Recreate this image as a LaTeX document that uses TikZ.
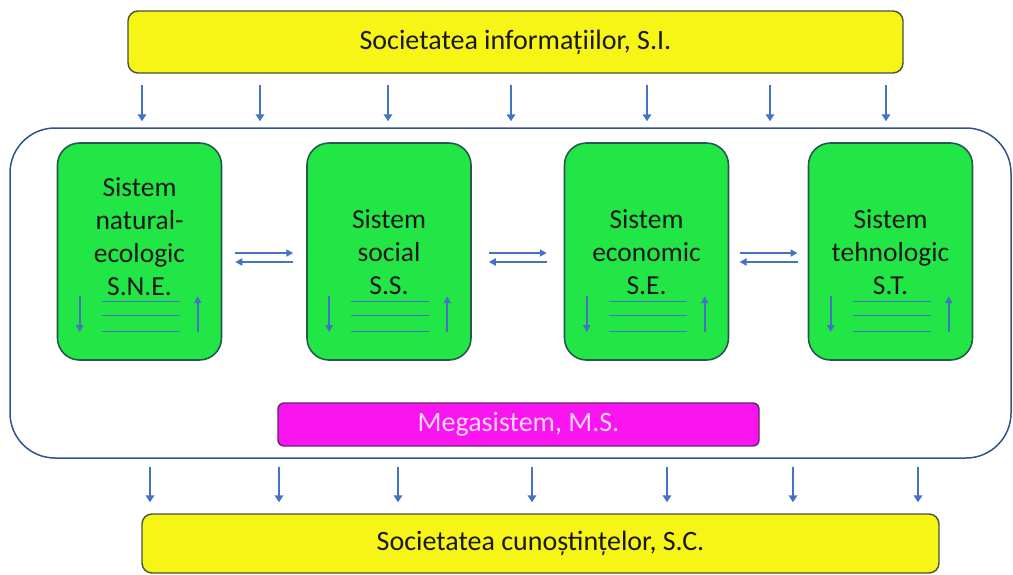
\documentclass[tikz,border=0pt]{standalone}
\usepackage{fontspec}
\setmainfont{Carlito}
\usetikzlibrary{arrows.meta,calc}
\definecolor{yel}{RGB}{246,245,22}
\definecolor{yelb}{RGB}{72,80,62}
\definecolor{grn}{RGB}{34,230,70}
\definecolor{grnb}{RGB}{38,88,80}
\definecolor{mag}{RGB}{250,20,240}
\definecolor{magb}{RGB}{96,40,110}
\definecolor{arblue}{RGB}{68,114,196}
\definecolor{frm}{RGB}{47,82,143}
\definecolor{txtdark}{RGB}{25,25,25}
\begin{document}
\begin{tikzpicture}[x=1pt,y=-1pt,
  ybox/.style={draw=yelb, line width=1.4pt, fill=yel, rounded corners=10pt, inner sep=0pt,
    font=\fontsize{28}{33}\selectfont, text=txtdark},
  gbox/.style={draw=grnb, line width=1.6pt, fill=grn, rounded corners=22pt, inner sep=0pt,
    minimum width=164pt, minimum height=217pt},
  gtext/.style={align=center, font=\fontsize{27.5}{33}\selectfont, text=txtdark, inner sep=0pt},
  mbox/.style={draw=magb, line width=1.4pt, fill=mag, rounded corners=6pt, inner sep=0pt,
    font=\fontsize{28}{33}\selectfont, text=white!82!mag},
  bigbox/.style={draw=frm, line width=1.5pt, rounded corners=45pt, minimum width=1001pt, minimum height=330pt, inner sep=0pt},
  arr/.style={arblue, line width=2.2pt, -{Triangle[width=8.5pt,length=7pt]}},
  sarr/.style={arblue, line width=1.8pt, -{Triangle[width=7pt,length=7pt]}},
  thinl/.style={arblue, line width=1.2pt}
]
\useasboundingbox (0,0) rectangle (1013,574);

\node[bigbox] (mega) at (510.5,293) {};

\node[ybox, minimum width=775pt, minimum height=62pt] (si) at (515.5,42) {Societatea informațiilor, S.I.};
\node[ybox, minimum width=797pt, minimum height=59pt] (sc) at (540.5,543.5) {Societatea cunoștințelor, S.C.};
\node[mbox, minimum width=481pt, minimum height=43pt] (ms) at (518.5,424.5) {Megasistem, M.S.};

\node[gbox] (b1) at (139.5,251.5) {};
\node[gbox] (b2) at (389,251.5) {};
\node[gbox] (b3) at (646.5,251.5) {};
\node[gbox] (b4) at (890.5,251.5) {};

\node[gtext] (t1) at (139.5,237) {Sistem\\natural-\\ecologic\\S.N.E.};
\node[gtext] (t2) at (389,252) {Sistem\\social\\S.S.};
\node[gtext] (t3) at (646.5,252) {Sistem\\economic\\S.E.};
\node[gtext] (t4) at (890.5,252) {Sistem\\tehnologic\\S.T.};

\foreach \b in {b1,b2,b3,b4} {
  \coordinate (\b dt) at ($(\b.north west)+(23,154)$);
  \coordinate (\b db) at ($(\b.north west)+(23,190)$);
  \coordinate (\b ut) at ($(\b.north west)+(141,154)$);
  \coordinate (\b ub) at ($(\b.north west)+(141,190)$);
  \draw[sarr] (\b dt) -- (\b db);
  \draw[sarr] (\b ub) -- (\b ut);
  \foreach \yy in {159,173,189} {
    \draw[thinl] ($(\b.north west)+(45,\yy)$) -- ($(\b.north west)+(123,\yy)$);
  }
}

\foreach \l/\r in {b1/b2,b2/b3,b3/b4} {
  \coordinate (g\l) at ($(\l.east)!0.5!(\r.west)$);
  \draw[sarr] ([xshift=-29pt,yshift=-1.5pt]g\l) -- ([xshift=29pt,yshift=-1.5pt]g\l);
  \draw[sarr] ([xshift=29pt,yshift=-10.5pt]g\l) -- ([xshift=-29pt,yshift=-10.5pt]g\l);
}

\foreach \x [count=\i] in {142,260,388,511,647,770,886} {
  \coordinate (tx\i) at (\x,0);
  \draw[arr, shorten <=11pt, shorten >=6pt] (si.south -| tx\i) -- (mega.north -| tx\i);
}
\foreach \x [count=\i] in {150,279,398,532,667,793,918} {
  \coordinate (bx\i) at (\x,0);
  \draw[arr, shorten <=8pt, shorten >=11pt] (mega.south -| bx\i) -- (sc.north -| bx\i);
}
\end{tikzpicture}
\end{document}
